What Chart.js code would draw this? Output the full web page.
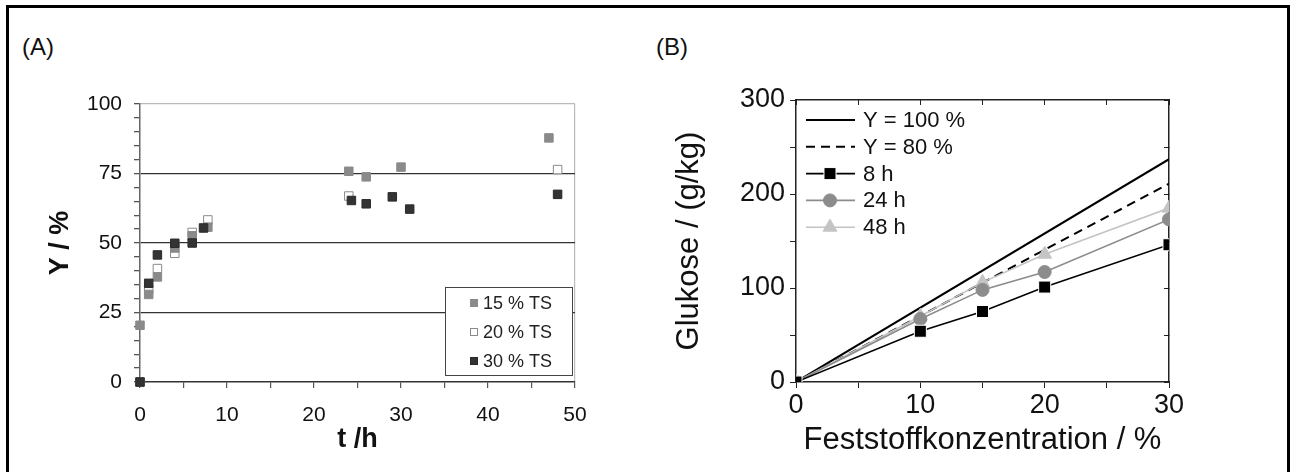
<!DOCTYPE html>
<html>
<head>
<meta charset="utf-8">
<script src="https://cdn.jsdelivr.net/npm/chart.js@4.4.1/dist/chart.umd.min.js"></script>
<style>
    body { margin: 0; background: #fff; font-family: "Liberation Sans", Arial, sans-serif; }
    #frame { position: absolute; left: 6px; top: 5px; width: 1278px; height: 480px; border: 3px solid #000; }
    .lbl { position: absolute; font-size: 24px; color: #111; line-height: 28px; }
    canvas { position: absolute; top: 0; }
</style>
</head>
<body>
<div id="frame"></div>
<div class="lbl" style="left:22px; top:33px;">(A)</div>
<div class="lbl" style="left:656px; top:33px;">(B)</div>
<canvas id="chartA" width="640" height="472" style="left:0"></canvas>
<canvas id="chartB" width="652" height="472" style="left:640px"></canvas>
<script>
// Panel A - yield over time
const tA15 = [0, 1, 2, 4, 6, 7.8, 24, 26, 30, 47];
const yA15 = [20.4, 31.5, 37.8, 48.2, 52.6, 55.7, 75.8, 73.8, 77.3, 87.8];
const tA20 = [0, 1, 2, 4, 6, 7.8, 24, 48];
const yA20 = [0, 33.5, 40.8, 46.3, 53.8, 58.3, 66.9, 76.4];
const tA30 = [0, 1, 2, 4, 6, 7.3, 24.3, 26, 29, 31, 48];
const yA30 = [0, 35.5, 45.7, 49.9, 50, 55.4, 65.3, 64.1, 66.6, 62.2, 67.5];
const seriesA = ['15 % TS', '20 % TS', '30 % TS'];

// Panel B - glucose vs solids concentration
const lineX = [0, 30];
const y100 = [0, 237];
const y80 = [0, 211];
const conc = [0, 10, 15, 20, 30];
const h8 = [0, 54, 75, 101, 146];
const h24 = [0, 67, 98, 117, 173];
const h48 = [0, 70, 106, 136, 185];
const seriesB = ['Y = 100 %', 'Y = 80 %', '8 h', '24 h', '48 h'];

const FONT = '"Liberation Sans", Arial, sans-serif';
const pts = (xs, ys) => xs.map((x, i) => ({x: x, y: ys[i]}));
const clear = 'rgba(0,0,0,0)';

// legend box in the lower right of panel A
const legendA = {
    id: 'legendA',
    afterDraw(chart) {
        const ctx = chart.ctx;
        const bx = 445, by = 287, bw = 127, bh = 88;
        ctx.save();
        ctx.fillStyle = '#fff';
        ctx.fillRect(bx, by, bw, bh);
        ctx.strokeStyle = '#444';
        ctx.lineWidth = 1;
        ctx.strokeRect(bx + 0.5, by + 0.5, bw, bh);
        ctx.font = '18px ' + FONT;
        ctx.textBaseline = 'middle';
        chart.data.datasets.forEach((ds, i) => {
            const y = by + 16 + i * 29;
            ctx.fillStyle = ds.backgroundColor;
            ctx.strokeStyle = ds.borderColor;
            ctx.fillRect(bx + 25, y - 4, 8, 8);
            ctx.strokeRect(bx + 25.5, y - 3.5, 7, 7);
            ctx.fillStyle = '#222';
            ctx.fillText(ds.label, bx + 38, y + 1);
        });
        ctx.restore();
    }
};

// legend in the upper left of panel B
const legendB = {
    id: 'legendB',
    afterDraw(chart) {
        const ctx = chart.ctx;
        ctx.save();
        ctx.font = '22px ' + FONT;
        ctx.textBaseline = 'middle';
        chart.data.datasets.forEach((ds, i) => {
            const y = 120 + i * 26.8;
            ctx.strokeStyle = ds.borderColor;
            ctx.lineWidth = ds.borderWidth;
            ctx.setLineDash(ds.borderDash || []);
            ctx.beginPath();
            ctx.moveTo(166, y);
            ctx.lineTo(215, y);
            ctx.stroke();
            ctx.setLineDash([]);
            if (ds.pointRadius > 0) {
                ctx.fillStyle = ds.backgroundColor;
                ctx.strokeStyle = ds.pointBorderColor;
                ctx.lineWidth = ds.pointBorderWidth;
                Chart.helpers.drawPoint(ctx, {pointStyle: ds.pointStyle, radius: ds.pointRadius, rotation: 0, borderWidth: ds.pointBorderWidth}, 190, y);
            }
            ctx.fillStyle = '#111';
            ctx.fillText(ds.label, 223, y + 1);
        });
        ctx.restore();
    }
};

new Chart(document.getElementById('chartA'), {
    type: 'scatter',
    data: {
        datasets: [
            {label: seriesA[0], data: pts(tA15, yA15), backgroundColor: '#8a8a8a', borderColor: '#8a8a8a', pointStyle: 'rect', pointRadius: 6, borderWidth: 1, order: 1, clip: false},
            {label: seriesA[1], data: pts(tA20, yA20), backgroundColor: '#fff', borderColor: '#8a8a8a', pointStyle: 'rect', pointRadius: 6, borderWidth: 1, order: 2, clip: false},
            {label: seriesA[2], data: pts(tA30, yA30), backgroundColor: '#333', borderColor: '#2a2a2a', pointStyle: 'rect', pointRadius: 6, borderWidth: 1, order: 0, clip: false}
        ]
    },
    options: {
        responsive: false,
        animation: false,
        devicePixelRatio: 1,
        layout: {padding: {left: 0, top: 104, right: 65, bottom: 0}},
        plugins: {legend: {display: false}, tooltip: {enabled: false}},
        scales: {
            x: {
                type: 'linear', min: 0, max: 50,
                afterFit: s => { s.height = 90; },
                ticks: {stepSize: 5, autoSkip: false, maxRotation: 0, padding: 15, color: '#111', font: {family: FONT, size: 21},
                    callback: v => (v % 10 === 0 ? v : '')},
                grid: {color: c => (c.tick && c.tick.value === 50 ? '#bbb' : clear), tickColor: '#555', tickLength: 6, lineWidth: 1.2},
                border: {color: '#333', width: 1.5},
                title: {display: true, text: 't /h', color: '#111', font: {family: FONT, size: 27, weight: 'bold'}, padding: {top: 0, bottom: 16}}
            },
            y: {
                min: 0, max: 100,
                afterFit: s => { s.width = 140; },
                ticks: {stepSize: 5, autoSkip: false, maxTicksLimit: 100, padding: 12, color: '#111', font: {family: FONT, size: 21},
                    callback: v => (v % 25 === 0 ? v : '')},
                grid: {
                    color: c => {
                        const v = c.tick ? c.tick.value : -1;
                        if (v === 100) return '#bbb';
                        return (v > 0 && v % 25 === 0) ? '#333' : clear;
                    },
                    tickColor: '#555', tickLength: 6, lineWidth: 1.3
                },
                border: {color: '#666', width: 1.5},
                title: {display: true, text: 'Y / %', color: '#111', font: {family: FONT, size: 27, weight: 'bold'}, padding: {top: 44, bottom: 0}}
            }
        }
    },
    plugins: [legendA]
});

const tickFont = {family: FONT, size: 27};
const titleFont = {family: FONT, size: 31};

new Chart(document.getElementById('chartB'), {
    type: 'line',
    data: {
        datasets: [
            {label: seriesB[0], data: pts(lineX, y100), borderColor: '#000', backgroundColor: '#000', borderWidth: 2, pointRadius: 0, order: 3},
            {label: seriesB[1], data: pts(lineX, y80), borderColor: '#000', backgroundColor: '#000', borderWidth: 2, borderDash: [9, 6], pointRadius: 0, order: 4},
            {label: seriesB[2], data: pts(conc, h8), borderColor: '#000', backgroundColor: '#000', borderWidth: 1.6, pointStyle: 'rect', pointRadius: 8.5, pointBorderColor: '#fff', pointBorderWidth: 1, order: 0},
            {label: seriesB[3], data: pts(conc, h24), borderColor: '#8c8c8c', backgroundColor: '#8c8c8c', borderWidth: 1.6, pointStyle: 'circle', pointRadius: 6.5, pointBorderColor: '#8c8c8c', pointBorderWidth: 1, order: 1},
            {label: seriesB[4], data: pts(conc, h48), borderColor: '#c4c4c4', backgroundColor: '#c4c4c4', borderWidth: 1.6, pointStyle: 'triangle', pointRadius: 8, pointBorderColor: '#c4c4c4', pointBorderWidth: 1, order: 2}
        ]
    },
    options: {
        responsive: false,
        animation: false,
        devicePixelRatio: 1,
        layout: {padding: {left: 0, top: 100, right: 123, bottom: 0}},
        plugins: {legend: {display: false}, tooltip: {enabled: false}},
        scales: {
            x: {
                type: 'linear', min: 0, max: 30,
                afterFit: s => { s.height = 90; },
                ticks: {stepSize: 5, autoSkip: false, maxRotation: 0, padding: 1, color: '#111', font: tickFont,
                    callback: v => (v % 10 === 0 ? v : '')},
                grid: {drawOnChartArea: false, tickColor: '#222', tickLength: 6},
                border: {color: '#222', width: 1.5},
                title: {display: true, text: 'Feststoffkonzentration / %', color: '#111', font: titleFont, padding: {top: 0, bottom: 13}}
            },
            y: {
                min: 0, max: 300,
                afterFit: s => { s.width = 156; },
                ticks: {stepSize: 50, autoSkip: false, padding: 5, color: '#111', font: tickFont,
                    callback: v => (v % 100 === 0 ? v : '')},
                grid: {drawOnChartArea: false, tickColor: '#222', tickLength: 6},
                border: {color: '#222', width: 1.5},
                title: {display: true, text: 'Glukose / (g/kg)', color: '#111', font: titleFont, padding: {top: 31, bottom: 0}}
            },
            x2: {
                type: 'linear', position: 'top', min: 0, max: 30,
                afterFit: s => { s.height = 0; },
                ticks: {display: false, stepSize: 5},
                grid: {drawOnChartArea: false, tickColor: '#222', tickLength: -5},
                border: {color: '#222', width: 1.5}
            },
            y2: {
                type: 'linear', position: 'right', min: 0, max: 300,
                afterFit: s => { s.width = 0; },
                ticks: {display: false, stepSize: 50},
                grid: {drawOnChartArea: false, tickColor: '#222', tickLength: -5},
                border: {color: '#222', width: 1.5}
            }
        }
    },
    plugins: [legendB]
});
</script>
</body>
</html>
